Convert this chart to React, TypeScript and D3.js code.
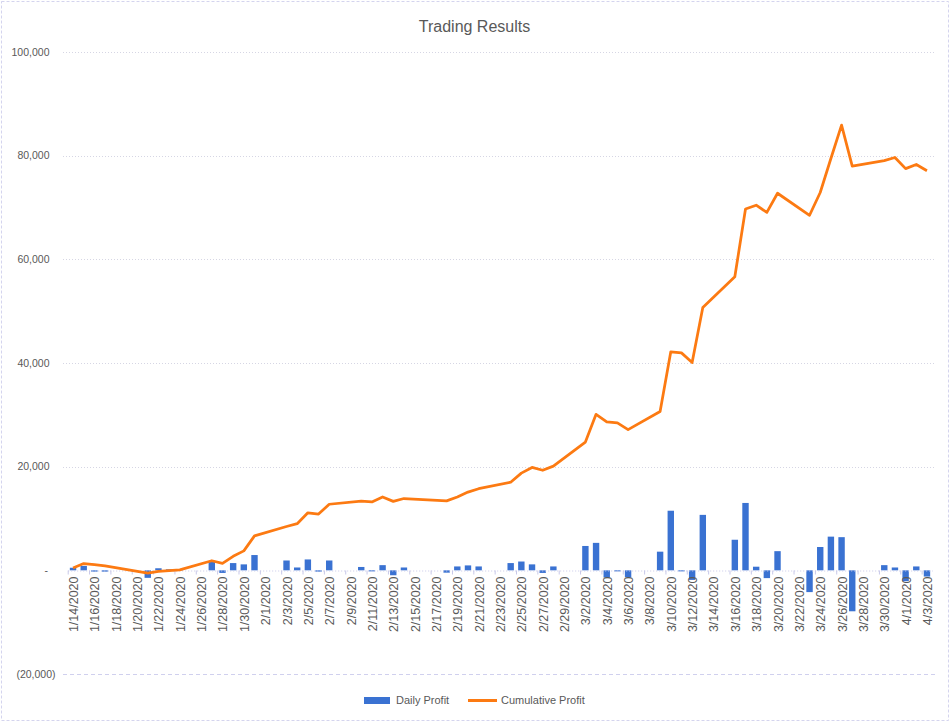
import React, { useEffect, useRef } from 'react';
import * as d3 from 'd3';

// trading days (weekends / holidays have no entry)
const tradeDates = [
  '2020-01-14', '2020-01-15', '2020-01-16', '2020-01-17', '2020-01-21', '2020-01-22', '2020-01-23', '2020-01-24',
  '2020-01-27', '2020-01-28', '2020-01-29', '2020-01-30', '2020-01-31',
  '2020-02-03', '2020-02-04', '2020-02-05', '2020-02-06', '2020-02-07', '2020-02-10', '2020-02-11', '2020-02-12',
  '2020-02-13', '2020-02-14', '2020-02-18', '2020-02-19', '2020-02-20', '2020-02-21', '2020-02-24', '2020-02-25',
  '2020-02-26', '2020-02-27', '2020-02-28',
  '2020-03-02', '2020-03-03', '2020-03-04', '2020-03-05', '2020-03-06', '2020-03-09', '2020-03-10', '2020-03-11',
  '2020-03-12', '2020-03-13', '2020-03-16', '2020-03-17', '2020-03-18', '2020-03-19', '2020-03-20', '2020-03-23',
  '2020-03-24', '2020-03-25', '2020-03-26', '2020-03-27', '2020-03-30', '2020-03-31',
  '2020-04-01', '2020-04-02', '2020-04-03',
];

const dailyProfit = [
  500, 850, -250, -250, -1450, 400, 200, 200, 1800, -500, 1400, 1150, 2950,
  1900, 550, 2100, -250, 1900, 650, -200, 1000, -950, 550, -450, 750, 950, 750, 1400, 1700, 1150, -500, 750,
  4700, 5300, -1400, -200, -1350, 3600, 11500, -200, -1850, 10700, 5900, 13000, 700, -1500, 3700, -4200, 4500,
  6500, 6400, -7900, 1000, 550,
  -2100, 750, -1200,
];

const cumulativeProfit = [
  450, 1300, 1100, 850, -550, -200, -50, 100, 1850, 1350, 2700, 3750, 6650,
  8450, 9000, 11100, 10850, 12750, 13350, 13200, 14150, 13300, 13850, 13400, 14150, 15100, 15750, 17000, 18750,
  19850, 19300, 20100,
  24750, 30100, 28650, 28450, 27150, 30650, 42150, 41950, 40100, 50700, 56650, 69700, 70450, 69050, 72750, 68500,
  72900, 79450, 85900, 78000, 79050, 79650,
  77500, 78300, 77100,
];

const yTicks = [-20000, 0, 20000, 40000, 60000, 80000, 100000];
const seriesNames = ['Daily Profit', 'Cumulative Profit'];

const BLUE = '#3A72D2';
const ORANGE = '#FC7A12';
const TEXT = '#595959';
const FONT = '"Liberation Sans", Arial, sans-serif';

const Chart: React.FC = () => {
  const svgRef = useRef<SVGSVGElement | null>(null);

  useEffect(() => {
    if (!svgRef.current) return;
    const width = 951;
    const height = 723;
    const left = 67.7;
    const right = 932.3;

    const svg = d3.select(svgRef.current);
    svg.selectAll('*').remove();

    const parse = d3.utcParse('%Y-%m-%d');
    const dates = tradeDates.map((d) => parse(d) as Date);
    const first = dates[0];
    const last = dates[dates.length - 1];

    // date axis: every calendar day gets a slot, bars sit on the day centre
    const x = d3
      .scaleUtc()
      .domain([d3.utcHour.offset(first, -12), d3.utcHour.offset(last, 12)])
      .range([left, right]);
    const dayW = x(d3.utcDay.offset(first, 1)) - x(first);

    const y = d3.scaleLinear().domain([-20000, 100000]).range([674, 52]);

    // outer border
    svg
      .append('rect')
      .attr('x', 1.5)
      .attr('y', 1.5)
      .attr('width', width - 4)
      .attr('height', height - 4)
      .attr('fill', 'white')
      .attr('stroke', '#D4D4EE')
      .attr('stroke-dasharray', '3,2');

    // title
    svg
      .append('text')
      .attr('x', 474.5)
      .attr('y', 32)
      .attr('text-anchor', 'middle')
      .attr('font-family', FONT)
      .attr('font-size', 16)
      .attr('fill', TEXT)
      .text('Trading Results');

    // gridlines
    svg
      .append('g')
      .selectAll('line')
      .data(yTicks.filter((t) => t !== 0))
      .join('line')
      .attr('x1', 63)
      .attr('x2', 935)
      .attr('y1', (d) => Math.round(y(d)) + 0.5)
      .attr('y2', (d) => Math.round(y(d)) + 0.5)
      .attr('stroke', (d) => (d < 0 ? '#D0D0EE' : '#D6D6E4'))
      .attr('stroke-dasharray', (d) => (d < 0 ? '4,3' : '1,2'));

    // y labels (accounting style)
    const fmt = d3.format(',');
    svg
      .append('g')
      .selectAll('text')
      .data(yTicks)
      .join('text')
      .attr('x', (d) => (d < 0 ? 55.5 : d === 0 ? 48 : 49.5))
      .attr('y', (d) => y(d))
      .attr('dy', '0.35em')
      .attr('text-anchor', 'end')
      .attr('font-family', FONT)
      .attr('font-size', 10.5)
      .attr('fill', TEXT)
      .text((d) => (d < 0 ? `(${fmt(-d)})` : d === 0 ? '-' : fmt(d)));

    // bars
    svg
      .append('g')
      .selectAll('rect')
      .data(dailyProfit)
      .join('rect')
      .attr('x', (_, i) => x(dates[i]) - dayW * 0.3)
      .attr('width', dayW * 0.6)
      .attr('y', (d) => y(Math.max(0, d)))
      .attr('height', (d) => Math.abs(y(d) - y(0)))
      .attr('fill', BLUE);

    // x axis
    const tickDates = d3.utcDay.range(first, d3.utcDay.offset(last, 1), 2);
    const xAxis = svg
      .append('g')
      .attr('transform', `translate(0,${Math.round(y(0)) + 0.5})`)
      .call(
        d3
          .axisBottom(x)
          .tickValues(tickDates)
          .tickFormat((d) => d3.utcFormat('%-m/%-d/%Y')(d as Date))
          .tickSize(0)
          .tickPadding(0),
      );
    xAxis.select('.domain').attr('stroke', '#C8C8E8').attr('stroke-dasharray', '1,2');
    xAxis
      .selectAll('.tick text')
      .attr('font-family', FONT)
      .attr('font-size', 12.5)
      .attr('fill', TEXT)
      .attr('text-anchor', 'end')
      .attr('transform', 'rotate(-90)')
      .attr('x', -6)
      .attr('y', 0)
      .attr('dy', '0.36em');
    xAxis
      .selectAll('.tick')
      .append('line')
      .attr('x1', -dayW / 2)
      .attr('x2', -dayW / 2)
      .attr('y1', 0)
      .attr('y2', 4)
      .attr('stroke', '#C8C8E8');

    // cumulative line
    const line = d3
      .line<number>()
      .x((_, i) => x(dates[i]))
      .y((d) => y(d));
    svg
      .append('path')
      .datum(cumulativeProfit)
      .attr('fill', 'none')
      .attr('stroke', ORANGE)
      .attr('stroke-width', 2.75)
      .attr('stroke-linejoin', 'round')
      .attr('d', line);

    // legend
    const lg = svg.append('g').attr('font-family', FONT).attr('font-size', 11).attr('fill', TEXT);
    lg.append('rect').attr('x', 364).attr('y', 697).attr('width', 26).attr('height', 7).attr('fill', BLUE);
    lg.append('text').attr('x', 396).attr('y', 700.5).attr('dy', '0.35em').text(seriesNames[0]);
    lg.append('line')
      .attr('x1', 468)
      .attr('x2', 497)
      .attr('y1', 700.5)
      .attr('y2', 700.5)
      .attr('stroke', ORANGE)
      .attr('stroke-width', 3);
    lg.append('text').attr('x', 501).attr('y', 700.5).attr('dy', '0.35em').text(seriesNames[1]);
  }, []);

  return (
    <svg
      ref={svgRef}
      width={951}
      height={723}
      style={{ position: 'absolute', left: 0, top: 0, background: 'white' }}
    ></svg>
  );
};

export default function App() {
  return <Chart />;
}
